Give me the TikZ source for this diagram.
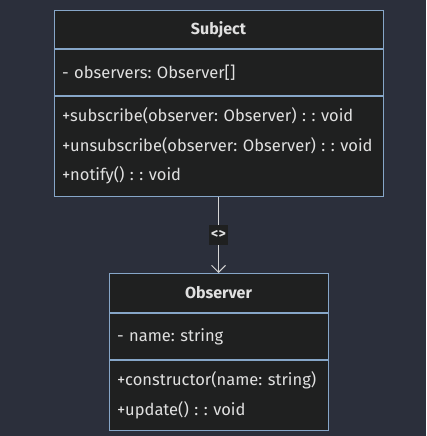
\documentclass[tikz,border=0pt]{standalone}
\usepackage{fontspec}
\setmainfont{Fira Sans}
\frenchspacing
\usetikzlibrary{positioning,arrows.meta}
\definecolor{bgcol}{HTML}{2B2F3B}
\definecolor{boxcol}{HTML}{1F2020}
\definecolor{edgecol}{HTML}{86A6C8}
\definecolor{txtcol}{HTML}{E0E0E0}

\begin{document}
\begin{tikzpicture}[x=1pt,y=1pt,
classhead/.style={rectangle, draw=edgecol, fill=boxcol, line width=0.9pt, text=txtcol, font=\fontsize{16}{18}\selectfont\bfseries, inner sep=0pt, anchor=north},
classpart/.style={rectangle, draw=edgecol, fill=boxcol, line width=0.9pt, text=txtcol, font=\fontsize{16.5}{29.5}\selectfont, inner xsep=8pt, inner ysep=0pt, align=left},
edgelabel/.style={fill=boxcol, text=txtcol, font=\fontsize{14}{15}\selectfont\bfseries, inner xsep=2pt, inner ysep=0pt, minimum height=20pt},
]
\fill[bgcol] (0,0) rectangle (426,-436);
\useasboundingbox (0,0) rectangle (426,-436);

%Nodes
\node[classhead, minimum width=329pt, minimum height=38pt] (subject) at (218.5,-10) {Subject};
\node[classpart, text width=313pt, minimum height=46pt] (subjectattr) [below=0pt of subject] {- observers: Observer[]};
\node[classpart, text width=313pt, minimum height=100pt] (subjectops) [below=0pt of subjectattr] {+subscribe(observer: Observer) : : void\\+unsubscribe(observer: Observer) : : void\\+notify() : : void};

\node[classhead, minimum width=219pt, minimum height=39pt] (observer) at (218.5,-273) {Observer};
\node[classpart, text width=203pt, minimum height=46pt] (observerattr) [below=0pt of observer] {- name: string};
\node[classpart, text width=203pt, minimum height=70pt] (observerops) [below=0pt of observerattr] {+constructor(name: string)\\+update() : : void};

%Lines
\draw[-{Straight Barb[length=7pt,width=14pt]}, draw=txtcol!90!gray, line width=0.9pt] (subjectops.south) -- node[edgelabel]{<>} (observer.north);
\end{tikzpicture}
\end{document}
